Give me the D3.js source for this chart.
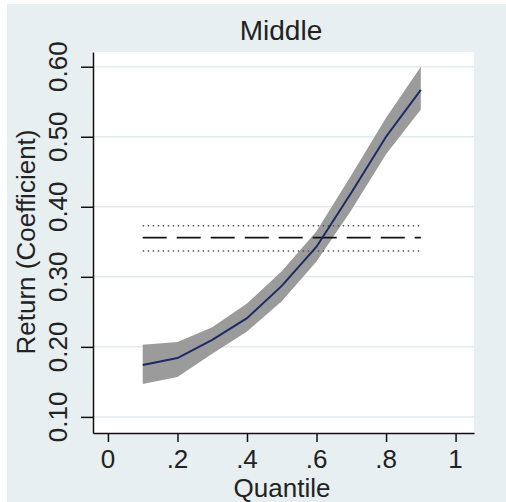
<!DOCTYPE html>
<html>
<head>
<meta charset="utf-8">
<script src="https://cdn.jsdelivr.net/npm/d3@7"></script>
<style>
  html, body { margin: 0; padding: 0; background: #ffffff; }
  svg { display: block; }
  text { font-family: "Liberation Sans", Arial, sans-serif; fill: #222; }
</style>
</head>
<body>
<script>
// quantile regression estimates
const quantiles = [0.1, 0.2, 0.3, 0.4, 0.5, 0.6, 0.7, 0.8, 0.9];
const coef = [0.174, 0.184, 0.210, 0.241, 0.287, 0.343, 0.420, 0.500, 0.567];
const lower = [0.147, 0.157, 0.190, 0.222, 0.265, 0.322, 0.395, 0.475, 0.539];
const upper = [0.203, 0.207, 0.228, 0.262, 0.308, 0.365, 0.445, 0.527, 0.600];

// OLS estimate and its band
const olsCoef = 0.356;
const olsLower = 0.337;
const olsUpper = 0.373;

const xTicks = [0, 0.2, 0.4, 0.6, 0.8, 1];
const xTickLabels = ['0', '.2', '.4', '.6', '.8', '1'];
const yTicks = [0.1, 0.2, 0.3, 0.4, 0.5, 0.6];
const yTickLabels = ['0.10', '0.20', '0.30', '0.40', '0.50', '0.60'];

const width = 506;
const height = 502;
const plotLeft = 93;
const plotRight = 474;
const plotTop = 52;
const plotBottom = 433;

const x = d3.scaleLinear().domain([-0.043, 1.053]).range([plotLeft, plotRight]);
const y = d3.scaleLinear().domain([0.077, 0.621]).range([plotBottom, plotTop]);

const svg = d3.select('body').append('svg')
  .attr('width', width)
  .attr('height', height)
  .attr('viewBox', [0, 0, width, height]);

// outer background
svg.append('rect')
  .attr('x', 7).attr('y', 4)
  .attr('width', width - 7).attr('height', height - 4)
  .attr('fill', '#e8eff1');

// plot region
svg.append('rect')
  .attr('x', plotLeft).attr('y', plotTop)
  .attr('width', plotRight - plotLeft).attr('height', plotBottom - plotTop)
  .attr('fill', '#ffffff');

// gridlines
svg.append('g')
  .selectAll('line')
  .data(yTicks)
  .join('line')
  .attr('x1', plotLeft).attr('x2', plotRight)
  .attr('y1', (d) => y(d)).attr('y2', (d) => y(d))
  .attr('stroke', '#e1ebee')
  .attr('stroke-width', 1.5);

const rows = quantiles.map((q, i) => ({ q, c: coef[i], lo: lower[i], hi: upper[i] }));

// confidence band
svg.append('path')
  .datum(rows)
  .attr('fill', '#9b9b9b')
  .attr('d', d3.area().x((d) => x(d.q)).y0((d) => y(d.lo)).y1((d) => y(d.hi)));

// OLS lines
const ols = [
  { v: olsUpper, dash: '1.5,3.5', w: 1.5, color: '#555' },
  { v: olsLower, dash: '1.5,3.5', w: 1.5, color: '#555' },
  { v: olsCoef, dash: '24,10', w: 1.8, color: '#111' },
];
svg.append('g')
  .selectAll('line')
  .data(ols)
  .join('line')
  .attr('x1', x(quantiles[0])).attr('x2', x(quantiles[quantiles.length - 1]))
  .attr('y1', (d) => y(d.v)).attr('y2', (d) => y(d.v))
  .attr('stroke', (d) => d.color)
  .attr('stroke-width', (d) => d.w)
  .attr('stroke-dasharray', (d) => d.dash);

// coefficient line
svg.append('path')
  .datum(rows)
  .attr('fill', 'none')
  .attr('stroke', '#1c2a66')
  .attr('stroke-width', 2)
  .attr('d', d3.line().x((d) => x(d.q)).y((d) => y(d.c)));

// y axis
const gy = svg.append('g')
  .attr('transform', `translate(${plotLeft},0)`)
  .call(d3.axisLeft(y).tickValues(yTicks).tickSize(12).tickSizeOuter(0).tickFormat(''));
gy.select('.domain').attr('stroke', '#111').attr('stroke-width', 1.5);
gy.selectAll('.tick line').attr('stroke', '#111').attr('stroke-width', 1.5);

// x axis
const gx = svg.append('g')
  .attr('transform', `translate(0,${plotBottom})`)
  .call(d3.axisBottom(x).tickValues(xTicks).tickSize(9).tickSizeOuter(0).tickFormat(''));
gx.select('.domain').attr('stroke', '#111').attr('stroke-width', 1.5);
gx.selectAll('.tick line').attr('stroke', '#111').attr('stroke-width', 1.5);

// y tick labels, rotated
svg.append('g')
  .selectAll('text')
  .data(yTicks)
  .join('text')
  .attr('transform', (d) => `translate(67,${y(d)}) rotate(-90)`)
  .attr('text-anchor', 'middle')
  .attr('font-size', 26)
  .text((d, i) => yTickLabels[i]);

// x tick labels
svg.append('g')
  .selectAll('text')
  .data(xTicks)
  .join('text')
  .attr('x', (d) => x(d))
  .attr('y', 468)
  .attr('text-anchor', 'middle')
  .attr('font-size', 26)
  .text((d, i) => xTickLabels[i]);

// axis titles
svg.append('text')
  .attr('x', 282).attr('y', 497)
  .attr('text-anchor', 'middle')
  .attr('font-size', 26)
  .text('Quantile');

svg.append('text')
  .attr('transform', `translate(35,242) rotate(-90)`)
  .attr('text-anchor', 'middle')
  .attr('font-size', 26)
  .text('Return (Coefficient)');

// panel title
svg.append('text')
  .attr('x', 281).attr('y', 40)
  .attr('text-anchor', 'middle')
  .attr('font-size', 28)
  .text('Middle');
</script>
</body>
</html>
